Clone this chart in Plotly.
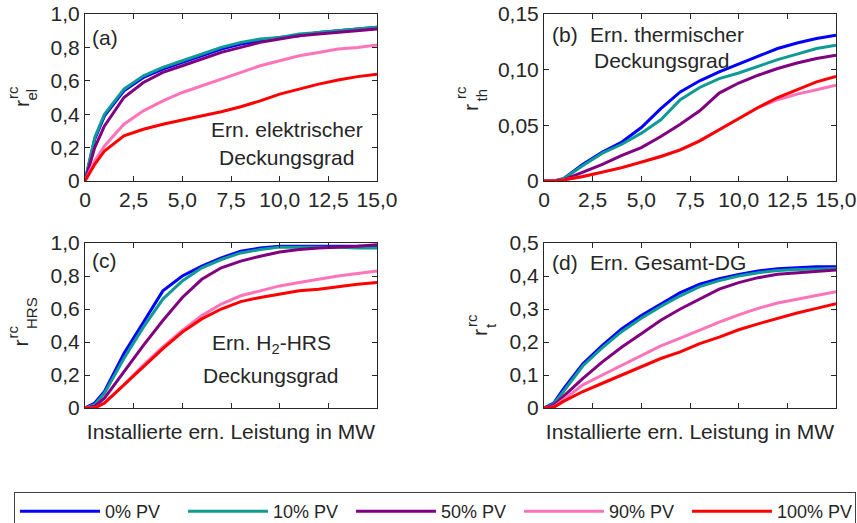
import plotly.graph_objects as go

W, H = 857, 523

x_mw = [0, 0.5, 1, 2, 3, 4, 5, 6, 7, 8, 9, 10, 11, 12, 13, 14, 15]
series_names = ["0% PV", "10% PV", "50% PV", "90% PV", "100% PV"]
series_colors = ["#0000FF", "#0F9A96", "#800080", "#FF73B9", "#FF0000"]

el_0 = [0, 0.25, 0.39, 0.54, 0.62, 0.67, 0.71, 0.75, 0.79, 0.82, 0.84, 0.86, 0.87, 0.89, 0.90, 0.91, 0.92]
el_10 = [0, 0.26, 0.40, 0.55, 0.63, 0.68, 0.72, 0.76, 0.80, 0.83, 0.85, 0.86, 0.88, 0.89, 0.90, 0.91, 0.92]
el_50 = [0, 0.20, 0.33, 0.50, 0.59, 0.65, 0.69, 0.73, 0.77, 0.80, 0.83, 0.85, 0.87, 0.88, 0.89, 0.90, 0.91]
el_90 = [0, 0.12, 0.21, 0.34, 0.42, 0.48, 0.53, 0.57, 0.61, 0.65, 0.69, 0.72, 0.75, 0.77, 0.79, 0.80, 0.815]
el_100 = [0, 0.10, 0.18, 0.27, 0.31, 0.34, 0.365, 0.39, 0.415, 0.445, 0.48, 0.52, 0.55, 0.58, 0.605, 0.625, 0.64]

th_0 = [0, 0, 0.002, 0.015, 0.026, 0.035, 0.048, 0.065, 0.080, 0.090, 0.098, 0.105, 0.112, 0.119, 0.124, 0.128, 0.131]
th_10 = [0, 0, 0.002, 0.014, 0.025, 0.033, 0.043, 0.055, 0.073, 0.084, 0.092, 0.097, 0.103, 0.109, 0.114, 0.119, 0.122]
th_50 = [0, 0, 0.001, 0.008, 0.015, 0.023, 0.030, 0.040, 0.051, 0.063, 0.079, 0.088, 0.095, 0.101, 0.106, 0.110, 0.113]
th_90 = [0, 0, 0.001, 0.004, 0.008, 0.012, 0.017, 0.022, 0.028, 0.036, 0.046, 0.056, 0.066, 0.073, 0.078, 0.082, 0.086]
th_100 = [0, 0, 0.001, 0.004, 0.008, 0.012, 0.017, 0.022, 0.028, 0.036, 0.046, 0.056, 0.066, 0.075, 0.082, 0.089, 0.094]

hrs_0 = [0, 0.03, 0.10, 0.33, 0.52, 0.71, 0.80, 0.86, 0.91, 0.95, 0.97, 0.98, 0.98, 0.98, 0.98, 0.98, 0.98]
hrs_10 = [0, 0.02, 0.09, 0.30, 0.49, 0.66, 0.77, 0.85, 0.90, 0.94, 0.96, 0.975, 0.975, 0.975, 0.975, 0.97, 0.97]
hrs_50 = [0, 0.01, 0.06, 0.22, 0.38, 0.53, 0.67, 0.78, 0.85, 0.89, 0.92, 0.945, 0.96, 0.97, 0.975, 0.98, 0.99]
hrs_90 = [0, 0, 0.03, 0.14, 0.26, 0.37, 0.47, 0.56, 0.63, 0.68, 0.71, 0.74, 0.76, 0.78, 0.80, 0.815, 0.83]
hrs_100 = [0, 0, 0.03, 0.14, 0.25, 0.36, 0.46, 0.54, 0.60, 0.645, 0.67, 0.69, 0.71, 0.72, 0.735, 0.75, 0.76]

tot_0 = [0, 0.015, 0.058, 0.134, 0.19, 0.24, 0.28, 0.316, 0.35, 0.375, 0.392, 0.405, 0.415, 0.422, 0.426, 0.428, 0.428]
tot_10 = [0, 0.012, 0.05, 0.128, 0.183, 0.232, 0.272, 0.308, 0.34, 0.368, 0.386, 0.4, 0.41, 0.417, 0.42, 0.422, 0.423]
tot_50 = [0, 0.008, 0.035, 0.09, 0.14, 0.185, 0.225, 0.266, 0.30, 0.33, 0.36, 0.38, 0.395, 0.405, 0.41, 0.414, 0.418]
tot_90 = [0, 0.003, 0.025, 0.07, 0.10, 0.13, 0.16, 0.188, 0.212, 0.237, 0.26, 0.282, 0.302, 0.318, 0.33, 0.341, 0.352]
tot_100 = [0, 0.002, 0.02, 0.05, 0.075, 0.10, 0.125, 0.15, 0.17, 0.195, 0.215, 0.237, 0.255, 0.272, 0.288, 0.302, 0.316]

x_tickvals = [0, 2.5, 5, 7.5, 10, 12.5, 15]
x_ticktext = ["0", "2,5", "5,0", "7,5", "10,0", "12,5", "15,0"]
y_tickvals_1 = [0, 0.2, 0.4, 0.6, 0.8, 1.0]
y_ticktext_1 = ["0", "0,2", "0,4", "0,6", "0,8", "1,0"]
y_tickvals_th = [0, 0.05, 0.10, 0.15]
y_ticktext_th = ["0", "0,05", "0,10", "0,15"]
y_tickvals_t = [0, 0.1, 0.2, 0.3, 0.4, 0.5]
y_ticktext_t = ["0", "0,1", "0,2", "0,3", "0,4", "0,5"]
x_title = "Installierte ern. Leistung in MW"

FONT = "Liberation Sans, Arial, sans-serif"
TXT = "#262626"
FS = 21

panels = [
    ("x", "y", [el_0, el_10, el_50, el_90, el_100]),
    ("x2", "y2", [th_0, th_10, th_50, th_90, th_100]),
    ("x3", "y3", [hrs_0, hrs_10, hrs_50, hrs_90, hrs_100]),
    ("x4", "y4", [tot_0, tot_10, tot_50, tot_90, tot_100]),
]

fig = go.Figure()
for pi, (xa, ya, data) in enumerate(panels):
    for si, vals in enumerate(data):
        fig.add_trace(go.Scatter(
            x=x_mw, y=vals, mode="lines", xaxis=xa, yaxis=ya,
            name=series_names[si], showlegend=(pi == 0),
            line=dict(color=series_colors[si], width=3),
        ))

def px_x(p):
    return p / W

def px_y(p):
    return 1 - p / H

left_dom = [px_x(85), px_x(377)]
right_dom = [px_x(544), px_x(836)]
top_dom = [px_y(181), px_y(14)]
bot_dom = [px_y(408), px_y(243)]

def xaxis(dom, anchor, labels, title):
    d = dict(domain=dom, anchor=anchor, range=[0, 15], tickvals=x_tickvals,
             ticktext=x_ticktext, showticklabels=labels, ticks="inside", ticklen=5,
             tickcolor=TXT, showline=True, linecolor=TXT, linewidth=1, mirror="ticks",
             showgrid=False, zeroline=False, automargin=False,
             tickfont=dict(size=FS, color=TXT, family=FONT))
    if title:
        d["title"] = dict(text=x_title, font=dict(size=FS, color=TXT, family=FONT), standoff=16)
    return d

def yaxis(dom, anchor, rng, tv, tt):
    return dict(domain=dom, anchor=anchor, range=rng, tickvals=tv, ticktext=tt,
                ticks="inside", ticklen=5, tickcolor=TXT, showline=True, linecolor=TXT,
                linewidth=1, mirror="ticks", showgrid=False, zeroline=False, automargin=False,
                tickfont=dict(size=FS, color=TXT, family=FONT))

fig.update_layout(
    width=W, height=H,
    margin=dict(l=0, r=0, t=0, b=0, autoexpand=False),
    paper_bgcolor="white", plot_bgcolor="white",
    font=dict(family=FONT, color=TXT, size=FS),
    xaxis=xaxis(left_dom, "y", True, False),
    yaxis=yaxis(top_dom, "x", [0, 1], y_tickvals_1, y_ticktext_1),
    xaxis2=xaxis(right_dom, "y2", True, False),
    yaxis2=yaxis(top_dom, "x2", [0, 0.15], y_tickvals_th, y_ticktext_th),
    xaxis3=xaxis(left_dom, "y3", False, True),
    yaxis3=yaxis(bot_dom, "x3", [0, 1], y_tickvals_1, y_ticktext_1),
    xaxis4=xaxis(right_dom, "y4", False, True),
    yaxis4=yaxis(bot_dom, "x4", [0, 0.5], y_tickvals_t, y_ticktext_t),
    legend=dict(orientation="h", x=px_x(14), xanchor="left", y=px_y(492), yanchor="top",
                bordercolor="#404040", borderwidth=1, bgcolor="white",
                font=dict(size=18, color=TXT, family=FONT),
                itemwidth=80, entrywidth=73, entrywidthmode="pixels"),
    showlegend=True,
)

def ann(text, xp, yp, size=FS, xanchor="left", angle=0):
    fig.add_annotation(text=text, x=px_x(xp), y=px_y(yp), xref="paper", yref="paper",
                       xanchor=xanchor, yanchor="middle", showarrow=False, textangle=angle,
                       font=dict(size=size, color=TXT, family=FONT))

# panel texts
ann("(a)", 90, 37)
ann("Ern. elektrischer", 287, 129, xanchor="center")
ann("Deckungsgrad", 286, 157, xanchor="center")
ann("(b)", 550, 35)
ann("Ern. thermischer", 588, 35)
ann("Deckungsgrad", 661, 61, xanchor="center")
ann("(c)", 90, 260)
ann("Ern. H<sub>2</sub>-HRS", 271, 344, xanchor="center")
ann("Deckungsgrad", 270, 375, xanchor="center")
ann("(d)", 550, 262)
ann("Ern. Gesamt-DG", 588, 262)

# y-axis labels: r with stacked superscript/subscript
ylabels = [
    ((21, 104), (12.5, 92.5), (31.5, 94), "el"),
    ((471, 107), (461, 93), (481, 95.5), "th"),
    ((19.5, 343), (11.5, 332), (31, 313), "HRS"),
    ((479, 332), (471, 320), (490, 326), "t"),
]
for (r_pos, sup_pos, sub_pos, sub) in ylabels:
    ann("r", r_pos[0], r_pos[1], size=21, xanchor="center", angle=-90)
    ann("rc", sup_pos[0], sup_pos[1], size=15, xanchor="center", angle=-90)
    ann(sub, sub_pos[0], sub_pos[1], size=15, xanchor="center", angle=-90)

fig.write_html("out.html", config={"displayModeBar": False},
               post_script="document.body.style.margin='0';document.body.style.overflow='hidden';")
